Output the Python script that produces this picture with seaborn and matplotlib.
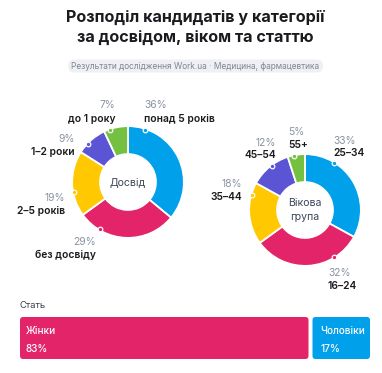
import matplotlib
matplotlib.use("Agg")
import matplotlib.pyplot as plt
import seaborn as sns
import numpy as np
from matplotlib.patches import FancyBboxPatch

# ---------------- data ----------------
title = "Розподіл кандидатів у категорії\nза досвідом, віком та статтю"
subtitle = "Результати дослідження Work.ua · Медицина, фармацевтика"

exp_labels = ["понад 5 років", "без досвіду", "2–5 років", "1–2 роки", "до 1 року"]
exp_values = [36, 29, 19, 9, 7]
exp_center = "Досвід"

age_labels = ["25–34", "16–24", "35–44", "45–54", "55+"]
age_values = [33, 32, 18, 12, 5]
age_center = "Вікова\nгрупа"

gender_title = "Стать"
gender_labels = ["Жінки", "Чоловіки"]
gender_values = [83, 17]

# ---------------- style ----------------
colors = ["#00A0EA", "#E32468", "#FFC800", "#5B55D6", "#74C142"]
GREY = "#8A93A3"
DARK = "#1B1B1F"
CENTER = "#3C4759"

sns.set_theme(style="white")
plt.rcParams["font.family"] = ["Inter", "DejaVu Sans"]

W, H = 382, 373
fig = plt.figure(figsize=(W / 100, H / 100), dpi=100)
fig.patch.set_facecolor("white")


def px_axes(x0, y0, x1, y1, **kw):
    return fig.add_axes([x0 / W, 1 - y1 / H, (x1 - x0) / W, (y1 - y0) / H], **kw)


# layout (pixels)
exp_box = (71, 125, 185, 239)
age_box = (248, 153, 362, 267)
exp_dot_angles = [18, 211, 260, 314, 341]
age_dot_angles = [32, 148, 286, 323, 349]


def donut(box, values, center_text, dot_angles):
    ax = px_axes(*box)
    ax.pie(values, colors=colors, startangle=90, counterclock=False,
           wedgeprops=dict(width=0.5, edgecolor="white", linewidth=1.3))
    th = np.deg2rad(dot_angles)
    for t, c in zip(th, colors):
        ax.scatter([0.985 * np.sin(t)], [0.985 * np.cos(t)], s=11, color=c,
                   edgecolor="white", linewidth=0.9, zorder=5)
    ax.text(0, 0, center_text, ha="center", va="center", fontsize=7.6,
            color=CENTER, linespacing=1.5)
    ax.set_xlim(-1.02, 1.02)
    ax.set_ylim(-1.02, 1.02)
    ax.set_aspect("equal")
    ax.axis("off")
    return ax


donut(exp_box, exp_values, exp_center, exp_dot_angles)
donut(age_box, age_values, age_center, age_dot_angles)

# ---------------- gender bar via seaborn ----------------
bax = px_axes(20, 317, 370, 359)
total = sum(gender_values)
sns.barplot(x=[total], y=[gender_title], color=colors[0], ax=bax, width=0.8,
            saturation=1)
sns.barplot(x=[gender_values[0]], y=[gender_title], color=colors[1], ax=bax,
            width=0.8, saturation=1)
bax.set_xlim(0, total)
bax.set_ylim(0.4, -0.4)
bax.axis("off")
# turn the seaborn bars into rounded segments with a small gap
rects = list(bax.patches)
px_per_x = 350 / total
px_per_y = 42 / 0.8
gap = 4 / px_per_x
segs = []
left = 0
for v in gender_values:
    segs.append((left, v))
    left += v
bar_cols = [r.get_facecolor() for r in rects][::-1]
y0 = rects[0].get_y()
hgt = rects[0].get_height()
for r in rects:
    r.remove()
for i, ((l, v), c) in enumerate(zip(segs, bar_cols)):
    x0 = l + (gap / 2 if i > 0 else 0)
    x1 = l + v - (gap / 2 if i < len(segs) - 1 else 0)
    rs = 3.2 / px_per_x
    p = FancyBboxPatch((x0, y0), x1 - x0, hgt,
                       boxstyle=f"round,pad=0,rounding_size={rs}",
                       mutation_aspect=px_per_x / px_per_y,
                       facecolor=c, edgecolor="none")
    bax.add_patch(p)

# ---------------- overlay texts ----------------
ov = fig.add_axes([0, 0, 1, 1], facecolor="none")
ov.set_xlim(0, W)
ov.set_ylim(H, 0)
ov.axis("off")

t1, t2 = title.split("\n")
ov.text(195, 17, t1, ha="center", va="center", fontsize=11.6,
        fontweight="bold", color=DARK)
ov.text(195, 38.5, t2, ha="center", va="center", fontsize=11.6,
        fontweight="bold", color=DARK)

pill = FancyBboxPatch((68, 59.5), 255, 13,
                      boxstyle="round,pad=0,rounding_size=6.5",
                      facecolor="#EEF0F3", edgecolor="none")
ov.add_patch(pill)
ov.text(195.5, 66.3, subtitle, ha="center", va="center", fontsize=6.0,
        color="#7D8696")

LBL = dict(fontsize=7.4, color=DARK, fontweight="semibold", va="center")
PCT = dict(fontsize=7.4, color=GREY, va="center")

# experience labels: (x, y_pct, y_label, align)
exp_pos = [(144, 105, 118.5, "left"), (96, 242, 254.5, "right"),
           (65, 198, 211, "right"), (75, 139, 152, "right"),
           (115, 105, 118.5, "right")]
for (x, yp, yl, ha), lab, v in zip(exp_pos, exp_labels, exp_values):
    ov.text(x, yp, f"{v}%", ha=ha, **PCT)
    ov.text(x, yl, lab, ha=ha, **LBL)

age_pos = [(333, 141, 153, "left"), (328, 273, 286, "left"),
           (242, 184, 197, "right"), (276, 143, 155.5, "right"),
           (288, 132, 144.5, "left")]
for (x, yp, yl, ha), lab, v in zip(age_pos, age_labels, age_values):
    ov.text(x, yp, f"{v}%", ha=ha, **PCT)
    ov.text(x, yl, lab, ha=ha, **LBL)

ov.text(20, 305, gender_title, ha="left", va="center", fontsize=6.8,
        color="#3A3F4A")
gx = [26, 320.5]
for x, lab, v in zip(gx, gender_labels, gender_values):
    ov.text(x, 331.5, lab, ha="left", va="center", fontsize=7.2,
            color="white", fontweight="medium")
    ov.text(x, 349, f"{v}%", ha="left", va="center", fontsize=7.2,
            color="white", fontweight="medium")

fig.savefig("out.png", dpi=100, facecolor="white")
